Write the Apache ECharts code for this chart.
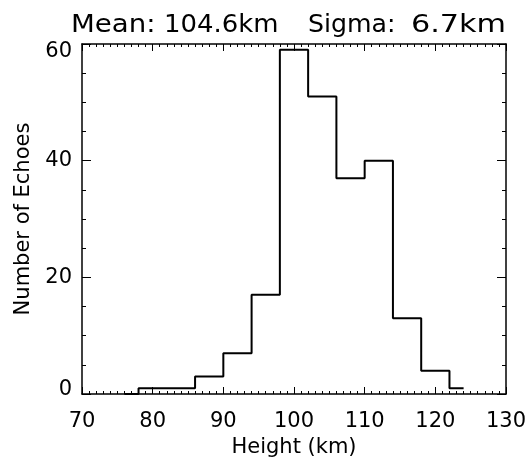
<!DOCTYPE html>
<html>
<head>
<meta charset="utf-8">
<script src="https://cdn.jsdelivr.net/npm/echarts@6/dist/echarts.min.js"></script>
<style>
  html, body { margin: 0; padding: 0; background: #ffffff; }
  #chart { width: 528px; height: 459px; }
</style>
</head>
<body>
<div id="chart"></div>
<script>
// Histogram of echo heights: bin centres (km) and echo counts per 4 km bin
const binCenters = [76, 80, 84, 88, 92, 96, 100, 104, 108, 112, 116, 120, 124];
const echoCounts = [0, 1, 1, 3, 7, 17, 59, 51, 37, 40, 13, 4, 1];

// Axis tick labels
const heightTicks = [70, 80, 90, 100, 110, 120, 130];
const countTicks = [0, 20, 40, 60];

// Summary statistics shown above the plot
const titleParts = ['Mean:', '104.6km', 'Sigma:', '6.7km'];

const FONT = 'DejaVu Sans';
const INK = '#000000';

const chart = echarts.init(document.getElementById('chart'), null, { renderer: 'canvas' });

const xStep = heightTicks[1] - heightTicks[0];
const yStep = countTicks[1] - countTicks[0];
const yMin = countTicks[0];
const yMax = countTicks[countTicks.length - 1];

function xAxisBase(pos, showLabel) {
  return {
    type: 'value',
    position: pos,
    min: heightTicks[0],
    max: heightTicks[heightTicks.length - 1],
    interval: xStep,
    axisLine: { show: true, onZero: false, lineStyle: { color: INK, width: 1.5 } },
    axisTick: { show: true, inside: true, length: 7, lineStyle: { color: INK, width: 1 } },
    minorTick: { show: true, splitNumber: 10, length: 3, lineStyle: { color: INK, width: 1 } },
    splitLine: { show: false },
    minorSplitLine: { show: false },
    axisLabel: {
      show: showLabel,
      color: INK,
      fontFamily: FONT,
      fontSize: 21,
      margin: 17
    }
  };
}

function yAxisBase(pos, showLabel) {
  return {
    type: 'value',
    position: pos,
    min: yMin,
    max: yMax,
    interval: yStep,
    axisLine: { show: true, onZero: false, lineStyle: { color: INK, width: 1.5 } },
    axisTick: { show: true, inside: true, length: 9, lineStyle: { color: INK, width: 1 } },
    minorTick: { show: true, splitNumber: 4, length: 4, lineStyle: { color: INK, width: 1 } },
    splitLine: { show: false },
    minorSplitLine: { show: false },
    axisLabel: {
      show: showLabel,
      color: INK,
      fontFamily: FONT,
      fontSize: 21,
      margin: 10,
      // end labels sit slightly inside the frame
      formatter: function (v) {
        if (v === yMax) return '{hi|' + v + '}';
        if (v === yMin) return '{lo|' + v + '}';
        return String(v);
      },
      rich: {
        hi: { color: INK, fontFamily: FONT, fontSize: 21, padding: [16, 0, 0, 0] },
        lo: { color: INK, fontFamily: FONT, fontSize: 21, padding: [0, 0, 9, 0] }
      }
    }
  };
}

const xBottom = Object.assign(xAxisBase('bottom', true), {
  name: 'Height (km)',
  nameLocation: 'middle',
  nameGap: 39,
  nameTextStyle: { color: INK, fontFamily: FONT, fontSize: 21 }
});
const xTop = xAxisBase('top', false);

const yLeft = Object.assign(yAxisBase('left', true), {
  name: 'Number of Echoes',
  nameLocation: 'middle',
  nameGap: 48,
  nameTextStyle: { color: INK, fontFamily: FONT, fontSize: 21 }
});
const yRight = yAxisBase('right', false);

// Title words placed individually across the top, with wide lettering
const titleLefts = [71, 164, 308, 411];
const titleStretch = [1.15, 1.08, 1.05, 1.26];
const titleGraphics = titleParts.map((t, i) => ({
  type: 'text',
  left: titleLefts[i],
  top: 14,
  scaleX: titleStretch[i],
  style: { text: t, fill: INK, font: '24px "' + FONT + '"' }
}));

chart.setOption({
  animation: false,
  backgroundColor: '#ffffff',
  grid: {
    left: 82, right: 22, top: 44, bottom: 65,
    containLabel: false,
    outerBoundsMode: 'none'
  },
  xAxis: [xBottom, xTop],
  yAxis: [yLeft, yRight],
  graphic: titleGraphics,
  series: [{
    type: 'line',
    xAxisIndex: 0,
    yAxisIndex: 0,
    step: 'middle',
    symbol: 'none',
    clip: true,
    lineStyle: { color: INK, width: 2 },
    data: binCenters.map((c, i) => [c, echoCounts[i]])
  }]
});
</script>
</body>
</html>
